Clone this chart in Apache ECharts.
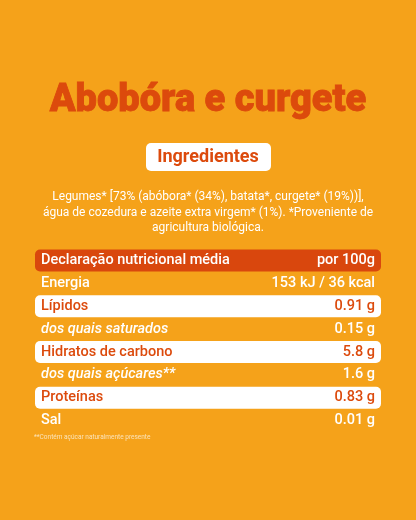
<!DOCTYPE html>
<html><head><meta charset="utf-8">
<script src="https://cdn.jsdelivr.net/npm/echarts@6/dist/echarts.min.js"></script>
<style>html,body{margin:0;padding:0;background:#F5A21A}#c{width:416px;height:520px}</style>
</head><body><div id="c"></div>
<script>
const title = "Abobóra e curgete";
const ingredientsLabel = "Ingredientes";
const ingredientsLines = [
  "Legumes* [73% (abóbora* (34%), batata*, curgete* (19%))],",
  "água de cozedura e azeite extra virgem* (1%). *Proveniente de",
  "agricultura biológica."
];
const rowNames = ["Declaração nutricional média","Energia","Lípidos","dos quais saturados","Hidratos de carbono","dos quais açúcares**","Proteínas","Sal"];
const rowValues = ["por 100g","153 kJ / 36 kcal","0.91 g","0.15 g","5.8 g","1.6 g","0.83 g","0.01 g"];
const rowKinds = ["header","plain","box","italic","box","italic","box","plain"];
const footnote = "**Contém açúcar naturalmente presente";

const ORANGE = "#F5A21A", RED = "#DC4A0C", HEAD = "#D9470D";
const FONT = "Roboto";
const chart = echarts.init(document.getElementById('c'));
const data = rowNames.map((n,i)=>[0,i]);
chart.setOption({
  backgroundColor: ORANGE,
  animation:false,
  grid:{left:35,right:35,top:249,bottom:88},
  xAxis:{type:'value',min:0,max:1,show:false},
  yAxis:{type:'category',data:rowNames,inverse:true,show:false},
  graphic:[
    {type:'text',left:'center',top:82,style:{text:title,fill:RED,font:`900 38px ${FONT}`,stroke:RED,lineWidth:0.8}},
    {type:'rect',shape:{x:146,y:143,width:125,height:28,r:5},style:{fill:'#fff'}},
    {type:'text',x:208,y:157,style:{text:ingredientsLabel,fill:RED,font:`bold 18px ${FONT}`,align:'center',verticalAlign:'middle'}},
    ...ingredientsLines.map((t,i)=>({type:'text',x:208,y:197+i*15.5,style:{text:t,fill:'#fff',font:`12px ${FONT}`,align:'center',verticalAlign:'middle'}})),
    {type:'text',x:34,y:437,style:{text:footnote,fill:'#FBE3B8',font:`6.5px ${FONT}`,verticalAlign:'middle'}}
  ],
  series:[{
    type:'custom',
    data:data,
    renderItem:function(params,api){
      const i = api.value(1);
      const p0 = api.coord([0,i]), p1 = api.coord([1,i]);
      const h = api.size([0,1])[1];
      const kind = rowKinds[i];
      const children = [];
      const y = p0[1];
      if(kind==='header' || kind==='box'){
        children.push({type:'rect',shape:{x:p0[0],y:y-h/2+0.5,width:p1[0]-p0[0],height:h-1,r:5},
          style:{fill: kind==='header'?HEAD:'#fff'}});
      }
      const col = kind==='box'?RED:'#fff';
      const font = (kind==='italic'?'italic ':'')+'500 14.5px '+FONT;
      children.push({type:'text',x:p0[0]+6,y:y,style:{text:rowNames[i],fill:col,font:font,verticalAlign:'middle'}});
      children.push({type:'text',x:p1[0]-6,y:y,style:{text:rowValues[i],fill:col,font:'500 14.5px '+FONT,align:'right',verticalAlign:'middle'}});
      return {type:'group',children:children};
    }
  }]
});
</script></body></html>
